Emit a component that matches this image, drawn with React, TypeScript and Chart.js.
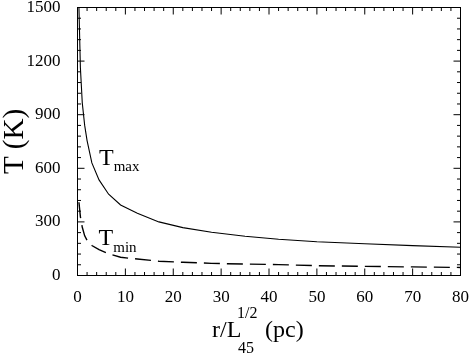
import React, { useEffect, useRef } from "react";
import { Chart, registerables } from "chart.js";

Chart.register(...registerables);

// r / L45^(1/2) in pc
const radius = [0.3, 0.6, 1.0, 1.5, 2.0, 3.0, 4.5, 6.5, 9.0, 12.5, 17, 22, 28, 35, 42, 50, 60, 70, 80];
// temperatures in K
const tMax = [1500, 1165, 965, 840, 755, 630, 535, 455, 395, 348, 300, 268, 242, 220, 203, 189, 178, 167, 158];
const tMin = [410, 330, 270, 222, 197, 168, 145, 122, 102, 92, 80, 74, 68, 64, 61, 55, 51, 48, 45];

const xTicks = [0, 10, 20, 30, 40, 50, 60, 70, 80];
const yTicks = [0, 300, 600, 900, 1200, 1500];

const X_MINOR = 2;
const Y_MINOR = 60;

// label anchors (data coordinates)
const maxLabelAt = { x: 4.5, y: 620 };
const minLabelAt = { x: 4.4, y: 170 };

const SERIF = "'Liberation Serif', 'Times New Roman', serif";

const framePlugin = {
  id: "frameTicks",
  afterDraw(chart: any) {
    const { ctx, chartArea: a, scales } = chart;
    const xs = scales.x;
    const ys = scales.y;
    ctx.save();
    ctx.strokeStyle = "#000";
    ctx.lineWidth = 1;
    ctx.strokeRect(a.left, a.top, a.right - a.left, a.bottom - a.top);

    const line = (x1: number, y1: number, x2: number, y2: number) => {
      ctx.beginPath();
      ctx.moveTo(x1, y1);
      ctx.lineTo(x2, y2);
      ctx.stroke();
    };
    const xMin = xTicks[0];
    const xMax = xTicks[xTicks.length - 1];
    const nx = Math.round((xMax - xMin) / X_MINOR);
    for (let i = 0; i <= nx; i++) {
      const v = xMin + i * X_MINOR;
      const px = xs.getPixelForValue(v);
      const len = xTicks.includes(v) ? 7 : 3.5;
      line(px, a.bottom, px, a.bottom - len);
      line(px, a.top, px, a.top + len);
    }
    const yMin = yTicks[0];
    const yMax = yTicks[yTicks.length - 1];
    const ny = Math.round((yMax - yMin) / Y_MINOR);
    for (let i = 0; i <= ny; i++) {
      const v = yMin + i * Y_MINOR;
      const py = ys.getPixelForValue(v);
      const len = yTicks.includes(v) ? 7 : 3.5;
      line(a.left, py, a.left + len, py);
      line(a.right, py, a.right - len, py);
    }

    ctx.fillStyle = "#000";
    ctx.textBaseline = "alphabetic";
    ctx.textAlign = "left";

    // curve labels
    const drawT = (sub: string, at: { x: number; y: number }) => {
      const px = xs.getPixelForValue(at.x);
      const py = ys.getPixelForValue(at.y);
      ctx.font = `24px ${SERIF}`;
      ctx.fillText("T", px, py);
      const w = ctx.measureText("T").width;
      ctx.font = `15px ${SERIF}`;
      ctx.fillText(sub, px + w, py + 6.5);
    };
    drawT("max", maxLabelAt);
    drawT("min", minLabelAt);

    // y title
    ctx.save();
    ctx.translate(23, (a.top + a.bottom) / 2);
    ctx.rotate(-Math.PI / 2);
    ctx.textAlign = "center";
    ctx.font = `29px ${SERIF}`;
    ctx.fillText("T (K)", 0, 0);
    ctx.restore();

    // x title
    const cx = (a.left + a.right) / 2;
    ctx.font = `24px ${SERIF}`;
    ctx.fillText("r/L", cx - 57, 337);
    ctx.font = `16px ${SERIF}`;
    ctx.fillText("1/2", cx - 32, 318);
    ctx.fillText("45", cx - 31, 353);
    ctx.font = `24px ${SERIF}`;
    ctx.fillText("(pc)", cx - 4, 337);
    ctx.restore();
  },
};

export default function App() {
  const ref = useRef<HTMLCanvasElement | null>(null);

  useEffect(() => {
    document.body.style.margin = "0";
    const canvas = ref.current;
    if (!canvas) return;
    const tickFont = { family: SERIF, size: 17 };
    const plain = (v: any) => String(v);
    const chart = new Chart(canvas, {
      type: "scatter",
      data: {
        datasets: [
          {
            label: "Tmax",
            data: radius.map((r, i) => ({ x: r, y: tMax[i] })),
            showLine: true,
            borderColor: "#000",
            borderWidth: 1.1,
            pointRadius: 0,
            tension: 0,
          },
          {
            label: "Tmin",
            data: radius.map((r, i) => ({ x: r, y: tMin[i] })),
            showLine: true,
            borderColor: "#000",
            borderWidth: 1.4,
            borderDash: [16, 7],
            pointRadius: 0,
            tension: 0,
          },
        ],
      },
      options: {
        animation: false,
        responsive: false,
        devicePixelRatio: 1,
        layout: { padding: { top: 7.5, right: 10.5, left: 0, bottom: 0 } },
        plugins: { legend: { display: false }, tooltip: { enabled: false } },
        scales: {
          x: {
            type: "linear",
            min: xTicks[0],
            max: xTicks[xTicks.length - 1],
            grid: { display: false },
            border: { display: false },
            ticks: { color: "#000", font: tickFont, padding: 4, maxRotation: 0, callback: plain },
            afterBuildTicks: (s: any) => {
              s.ticks = xTicks.map((v) => ({ value: v }));
            },
            afterFit: (s: any) => {
              s.height = 79.5;
              s.paddingLeft = 0;
              s.paddingRight = 0;
            },
          },
          y: {
            type: "linear",
            min: yTicks[0],
            max: yTicks[yTicks.length - 1],
            grid: { display: false },
            border: { display: false },
            ticks: { color: "#000", font: tickFont, padding: 9, callback: plain },
            afterBuildTicks: (s: any) => {
              s.ticks = yTicks.map((v) => ({ value: v }));
            },
            afterFit: (s: any) => {
              s.width = 77.5;
              s.paddingTop = 0;
              s.paddingBottom = 0;
            },
          },
        },
      },
      plugins: [framePlugin],
    } as any);
    return () => chart.destroy();
  }, []);

  return (
    <div style={{ width: 471, height: 355, background: "#fff" }}>
      <canvas ref={ref} width={471} height={355} style={{ display: "block" }} />
    </div>
  );
}
